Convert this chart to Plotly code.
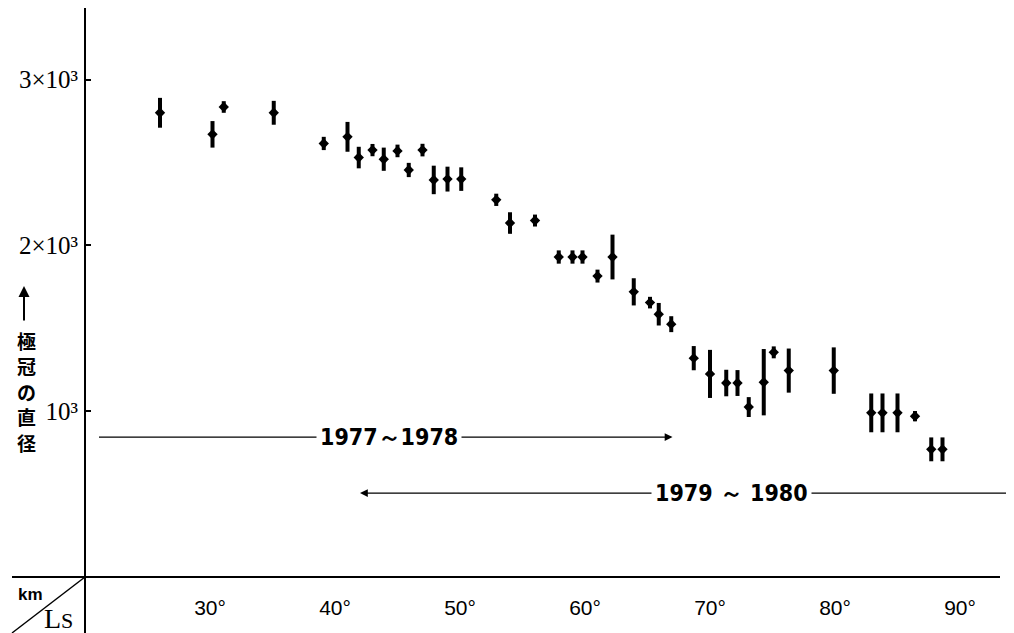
import plotly.graph_objects as go

# ---- data ----
ls_deg = [26.0, 30.2, 31.1, 35.1, 39.1, 41.0, 41.9, 43.0, 43.9, 45.0, 45.9, 47.0, 47.9, 49.0,
          50.1, 52.9, 54.0, 56.0, 57.9, 59.0, 59.8, 61.0, 62.2, 63.9, 65.2, 65.9, 66.9, 68.7,
          70.0, 71.3, 72.2, 73.1, 74.3, 75.1, 76.3, 79.9, 82.9, 83.8, 85.0, 86.4, 87.7, 88.6]
diameter_km = [2800, 2670, 2835, 2800, 2615, 2655, 2530, 2575, 2520, 2570, 2455, 2575, 2395, 2400,
               2400, 2275, 2135, 2150, 1930, 1930, 1930, 1815, 1930, 1720, 1655, 1585, 1525, 1320,
               1225, 1170, 1170, 1025, 1175, 1355, 1245, 1245, 990, 990, 990, 970, 770, 770]
error_km = [90, 80, 35, 72, 40, 90, 65, 37, 70, 38, 43, 38, 86, 75,
            71, 37, 65, 36, 40, 40, 40, 39, 135, 82, 35, 68, 48, 73,
            145, 80, 78, 60, 200, 36, 133, 140, 117, 117, 117, 31, 72, 72]

x_ticks = [30, 40, 50, 60, 70, 80, 90]
x_tick_text = ["30°", "40°", "50°", "60°", "70°", "80°", "90°"]
y_ticks = [1000, 2000, 3000]
y_tick_text = ["10³", "2×10³", "3×10³"]
y_title_chars = ["極", "冠", "の", "直", "径"]

period_labels = ["1977～1978", "1979 ～ 1980"]
period_start = [21.0, 94.4]      # tail of arrow (Ls)
period_end = [67.0, 42.0]        # arrow head (Ls)
period_level = [844, 506]        # km
period_text_x = [44.3, 71.7]

# ---- layout geometry (page coords; page body has an 8px margin) ----
OFF = 8
W, H = 1014, 633
PLOT_L, PLOT_R, PLOT_T, PLOT_B = 85, 1000, 10, 577   # plot area in page pixels
ML = PLOT_L - OFF
MT = PLOT_T - OFF
MR = W - (PLOT_R - OFF)
MB = H - (PLOT_B - OFF)
PW, PH = PLOT_R - PLOT_L, PLOT_B - PLOT_T


def px(x):
    return (x - PLOT_L) / PW


def py(y):
    return (PLOT_B - y) / PH


fig = go.Figure()
fig.add_trace(go.Scatter(
    x=ls_deg, y=diameter_km, mode="markers",
    marker=dict(symbol="diamond", size=8, color="black"),
    error_y=dict(type="data", array=error_km, visible=True, color="black", thickness=4, width=0),
    showlegend=False, hoverinfo="x+y",
))

shapes = [
    dict(type="line", xref="paper", yref="paper", x0=px(85), x1=px(85), y0=py(8), y1=py(640),
         line=dict(color="black", width=2)),
    dict(type="line", xref="paper", yref="paper", x0=px(12), x1=px(1000), y0=py(577), y1=py(577),
         line=dict(color="black", width=2)),
    dict(type="line", xref="paper", yref="paper", x0=px(85), x1=px(12), y0=py(577), y1=py(633),
         line=dict(color="black", width=1.5)),
]

annotations = []
for lab, s, e, lv, tx in zip(period_labels, period_start, period_end, period_level, period_text_x):
    annotations.append(dict(x=e, y=lv, xref="x", yref="y", ax=s, ay=lv, axref="x", ayref="y",
                            showarrow=True, arrowhead=2, arrowsize=1.2, arrowwidth=1.3,
                            arrowcolor="black", text=""))
for lab, s, e, lv, tx in zip(period_labels, period_start, period_end, period_level, period_text_x):
    annotations.append(dict(x=tx, y=lv, xref="x", yref="y", showarrow=False, text=lab,
                            xanchor="center", yanchor="middle",
                            bgcolor="white", borderpad=3,
                            font=dict(family="Liberation Sans Narrow, DejaVu Sans Condensed, Arial Narrow",
                                      size=23, color="black", weight="bold")))

# y-axis title: arrow + vertical Japanese text (one character per row)
annotations.append(dict(x=px(24), y=py(286), xref="paper", yref="paper", ax=0, ay=36,
                        showarrow=True, arrowhead=2, arrowsize=1.1, arrowwidth=2,
                        arrowcolor="black", text=""))
for i, ch in enumerate(y_title_chars):
    annotations.append(dict(x=px(26), y=py(340 + 25.5 * i), xref="paper", yref="paper",
                            showarrow=False, xanchor="center", yanchor="middle", text=ch,
                            font=dict(family="Noto Sans CJK JP", size=19, color="black", weight="bold")))
annotations.append(dict(x=px(30), y=py(594), xref="paper", yref="paper", showarrow=False,
                        xanchor="center", yanchor="middle",
                        text="<b>km</b>", font=dict(family="Liberation Sans, Arial", size=17, color="black")))
annotations.append(dict(x=px(58), y=py(619), xref="paper", yref="paper", showarrow=False,
                        xanchor="center", yanchor="middle",
                        text="L<span style='font-size:22px'>S</span>",
                        font=dict(family="Liberation Serif, Times New Roman", size=28, color="black")))

fig.update_layout(
    width=W, height=H,
    margin=dict(l=ML, r=MR, t=MT, b=MB, autoexpand=False),
    plot_bgcolor="white", paper_bgcolor="white",
    shapes=shapes, annotations=annotations,
    xaxis=dict(range=[20, 93.2], showgrid=False, zeroline=False, showline=False, automargin=False,
               tickvals=x_ticks, ticktext=x_tick_text, ticks="", ticklabelstandoff=16,
               tickfont=dict(family="Liberation Sans, Arial", size=21, color="black")),
    yaxis=dict(range=[0, 3420], showgrid=False, zeroline=False, showline=False, automargin=False,
               tickvals=y_ticks, ticktext=y_tick_text, ticks="inside", ticklen=6, tickwidth=1.5,
               tickcolor="black", ticklabelstandoff=6,
               tickfont=dict(family="Liberation Serif, Times New Roman", size=25, color="black")),
)

fig.write_html("out.html")
